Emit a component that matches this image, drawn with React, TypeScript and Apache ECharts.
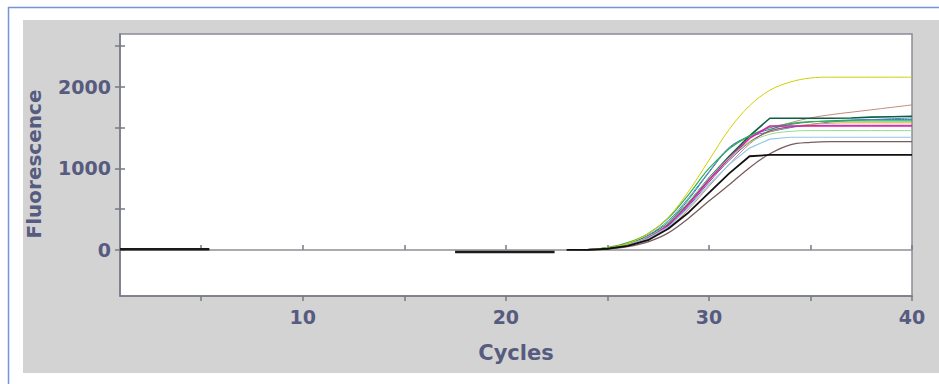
import React, { useEffect, useRef } from "react";
import * as echarts from "echarts";

const cycles = [23, 24, 25, 26, 27, 28, 29, 30, 31, 32, 33, 34, 35, 36, 37, 38, 39, 40];

const curveNames = ["tan", "teal", "blue", "darkGreen", "green", "orange", "purple", "magenta", "lightGreen", "lightBlue", "brownGray", "yellow", "black"];
const curveColors = ["#c48a7c", "#12908c", "#5a78d0", "#0a6040", "#2eb04c", "#e0a030", "#704890", "#e020b0", "#8ee08e", "#96c8e4", "#7a5c5c", "#d0d000", "#101010"];
const curveWidths = [1, 1, 1, 1.6, 1.2, 1, 1, 1.6, 1, 1.2, 1.3, 1, 1.8];
const curveSmooth = [0.35, 0.35, 0.35, 0, 0.35, 0.35, 0.35, 0, 0.35, 0, 0.35, 0.35, 0];

const tan = [0, 3, 15, 50, 130, 270, 500, 780, 1050, 1300, 1470, 1560, 1620, 1660, 1690, 1720, 1750, 1780];
const teal = [0, 4, 22, 70, 170, 340, 620, 950, 1250, 1400, 1480, 1540, 1570, 1585, 1595, 1600, 1600, 1600];
const blue = [0, 5, 25, 75, 180, 360, 640, 960, 1260, 1390, 1450, 1500, 1540, 1570, 1590, 1600, 1610, 1620];
const darkGreen = [0, 3, 20, 65, 160, 320, 580, 880, 1150, 1400, 1616, 1616, 1616, 1616, 1620, 1630, 1635, 1640];
const green = [0, 5, 30, 90, 200, 390, 680, 1000, 1240, 1400, 1500, 1550, 1575, 1580, 1583, 1583, 1583, 1583];
const orange = [0, 3, 18, 60, 150, 300, 560, 850, 1120, 1330, 1450, 1510, 1540, 1555, 1560, 1560, 1560, 1560];
const purple = [0, 3, 18, 58, 145, 290, 540, 830, 1100, 1320, 1460, 1510, 1525, 1530, 1530, 1530, 1530, 1530];
const magenta = [0, 3, 18, 60, 150, 300, 560, 860, 1130, 1370, 1521, 1521, 1521, 1521, 1521, 1521, 1521, 1521];
const lightGreen = [0, 4, 22, 70, 165, 330, 590, 880, 1130, 1320, 1420, 1455, 1465, 1465, 1465, 1465, 1465, 1465];
const lightBlue = [0, 3, 18, 55, 140, 280, 520, 800, 1050, 1250, 1360, 1383, 1383, 1383, 1383, 1383, 1383, 1383];
const brownGray = [0, 2, 12, 40, 100, 210, 390, 600, 800, 1010, 1180, 1290, 1320, 1329, 1329, 1329, 1329, 1329];
const yellow = [0, 5, 25, 80, 200, 400, 720, 1100, 1480, 1770, 1960, 2060, 2110, 2120, 2120, 2120, 2120, 2120];
const black = [0, 2, 15, 50, 120, 260, 460, 700, 940, 1150, 1166, 1166, 1166, 1166, 1166, 1166, 1166, 1166];

const curveValues = [tan, teal, blue, darkGreen, green, orange, purple, magenta, lightGreen, lightBlue, brownGray, yellow, black];

const zeroLineX = [1, 40];
const zeroLineY = [0, 0];
const seg1X = [1, 5.4];
const seg1Y = [10, 10];
const seg2X = [17.5, 22.4];
const seg2Y = [-25, -25];

const xTicks = [5, 10, 15, 20, 25, 30, 35, 40];
const xLabels = [10, 20, 30, 40];
const yTicks = [0, 500, 1000, 1500, 2000, 2500];
const yLabels = [0, 1000, 2000];

const TEXT = "#575b80";
const AXIS = "#767886";
const FONT = "DejaVu Sans";

export default function App() {
  const ref = useRef<HTMLDivElement>(null);
  useEffect(() => {
    if (!ref.current) return;
    const chart = echarts.init(ref.current, undefined, { renderer: "svg" });
    const pair = (xs: number[], ys: number[]) => xs.map((x, i) => [x, ys[i]]);
    const curveSeries = curveNames.map((name, k) => ({
      name,
      type: "line",
      xAxisIndex: 0,
      yAxisIndex: 0,
      data: pair(cycles, curveValues[k]),
      showSymbol: false,
      smooth: curveSmooth[k],
      lineStyle: { color: curveColors[k], width: curveWidths[k] },
      z: 3,
    }));
    const baseX = {
      type: "value",
      min: 1,
      max: 40,
      position: "bottom",
      splitLine: { show: false },
    };
    const baseY = {
      type: "value",
      min: -565,
      max: 2650,
      position: "left",
      splitLine: { show: false },
    };
    chart.setOption({
      animation: false,
      backgroundColor: "#ffffff",
      graphic: [
        { type: "rect", shape: { x: 23, y: 20, width: 916, height: 353 }, style: { fill: "#d3d3d3" }, z: -10 },
        { type: "line", shape: { x1: 8, y1: 7.5, x2: 939, y2: 7.5 }, style: { stroke: "#7394d6", lineWidth: 1.5 }, z: -5 },
        { type: "line", shape: { x1: 8.5, y1: 7, x2: 8.5, y2: 384 }, style: { stroke: "#7394d6", lineWidth: 1.5 }, z: -5 },
        {
          type: "text",
          x: 34,
          y: 164,
          rotation: Math.PI / 2,
          style: { text: "Fluorescence", font: `bold 20px "${FONT}"`, fill: TEXT, align: "center", verticalAlign: "middle" },
        },
      ],
      grid: {
        left: 120,
        top: 34,
        right: 27,
        bottom: 88,
        show: true,
        backgroundColor: "#ffffff",
        borderColor: "#8a8c98",
        borderWidth: 1.5,
      },
      xAxis: [
        {
          ...baseX,
          name: "Cycles",
          nameLocation: "middle",
          nameGap: 46,
          nameTextStyle: { color: TEXT, fontFamily: FONT, fontWeight: "bold", fontSize: 21 },
          axisLine: { show: true, onZero: false, lineStyle: { color: AXIS, width: 1.5 } },
          axisTick: { show: true, length: 5, inside: false, customValues: xTicks, lineStyle: { color: AXIS, width: 1.5 } },
          axisLabel: {
            show: true,
            customValues: xLabels,
            margin: 11,
            color: TEXT,
            fontFamily: FONT,
            fontWeight: "bold",
            fontSize: 19,
            formatter: (v: number) => String(v),
          },
        },
        {
          ...baseX,
          axisLine: { show: false },
          axisTick: { show: true, length: 5, inside: true, customValues: xTicks, lineStyle: { color: AXIS, width: 1.5 } },
          axisLabel: { show: false },
        },
      ],
      yAxis: [
        {
          ...baseY,
          axisLine: { show: true, onZero: false, lineStyle: { color: AXIS, width: 1.5 } },
          axisTick: { show: true, length: 5, inside: false, customValues: yTicks, lineStyle: { color: AXIS, width: 1.5 } },
          axisLabel: {
            show: true,
            customValues: yLabels,
            margin: 9,
            color: TEXT,
            fontFamily: FONT,
            fontWeight: "bold",
            fontSize: 19,
            formatter: (v: number) => String(v),
          },
        },
        {
          ...baseY,
          axisLine: { show: false },
          axisTick: { show: true, length: 5, inside: true, customValues: yTicks, lineStyle: { color: AXIS, width: 1.5 } },
          axisLabel: { show: false },
        },
      ],
      series: [
        {
          name: "zero",
          type: "line",
          data: pair(zeroLineX, zeroLineY),
          showSymbol: false,
          lineStyle: { color: "#8e8e94", width: 1.5 },
          z: 2,
        },
        ...curveSeries,
        {
          name: "seg1",
          type: "line",
          data: pair(seg1X, seg1Y),
          showSymbol: false,
          lineStyle: { color: "#1a1a1a", width: 2.5 },
          z: 4,
        },
        {
          name: "seg2",
          type: "line",
          data: pair(seg2X, seg2Y),
          showSymbol: false,
          lineStyle: { color: "#1a1a1a", width: 2.5 },
          z: 4,
        },
      ],
    });
    return () => chart.dispose();
  }, []);
  return <div ref={ref} style={{ position: "fixed", left: 0, top: 0, width: 939, height: 384 }} />;
}
